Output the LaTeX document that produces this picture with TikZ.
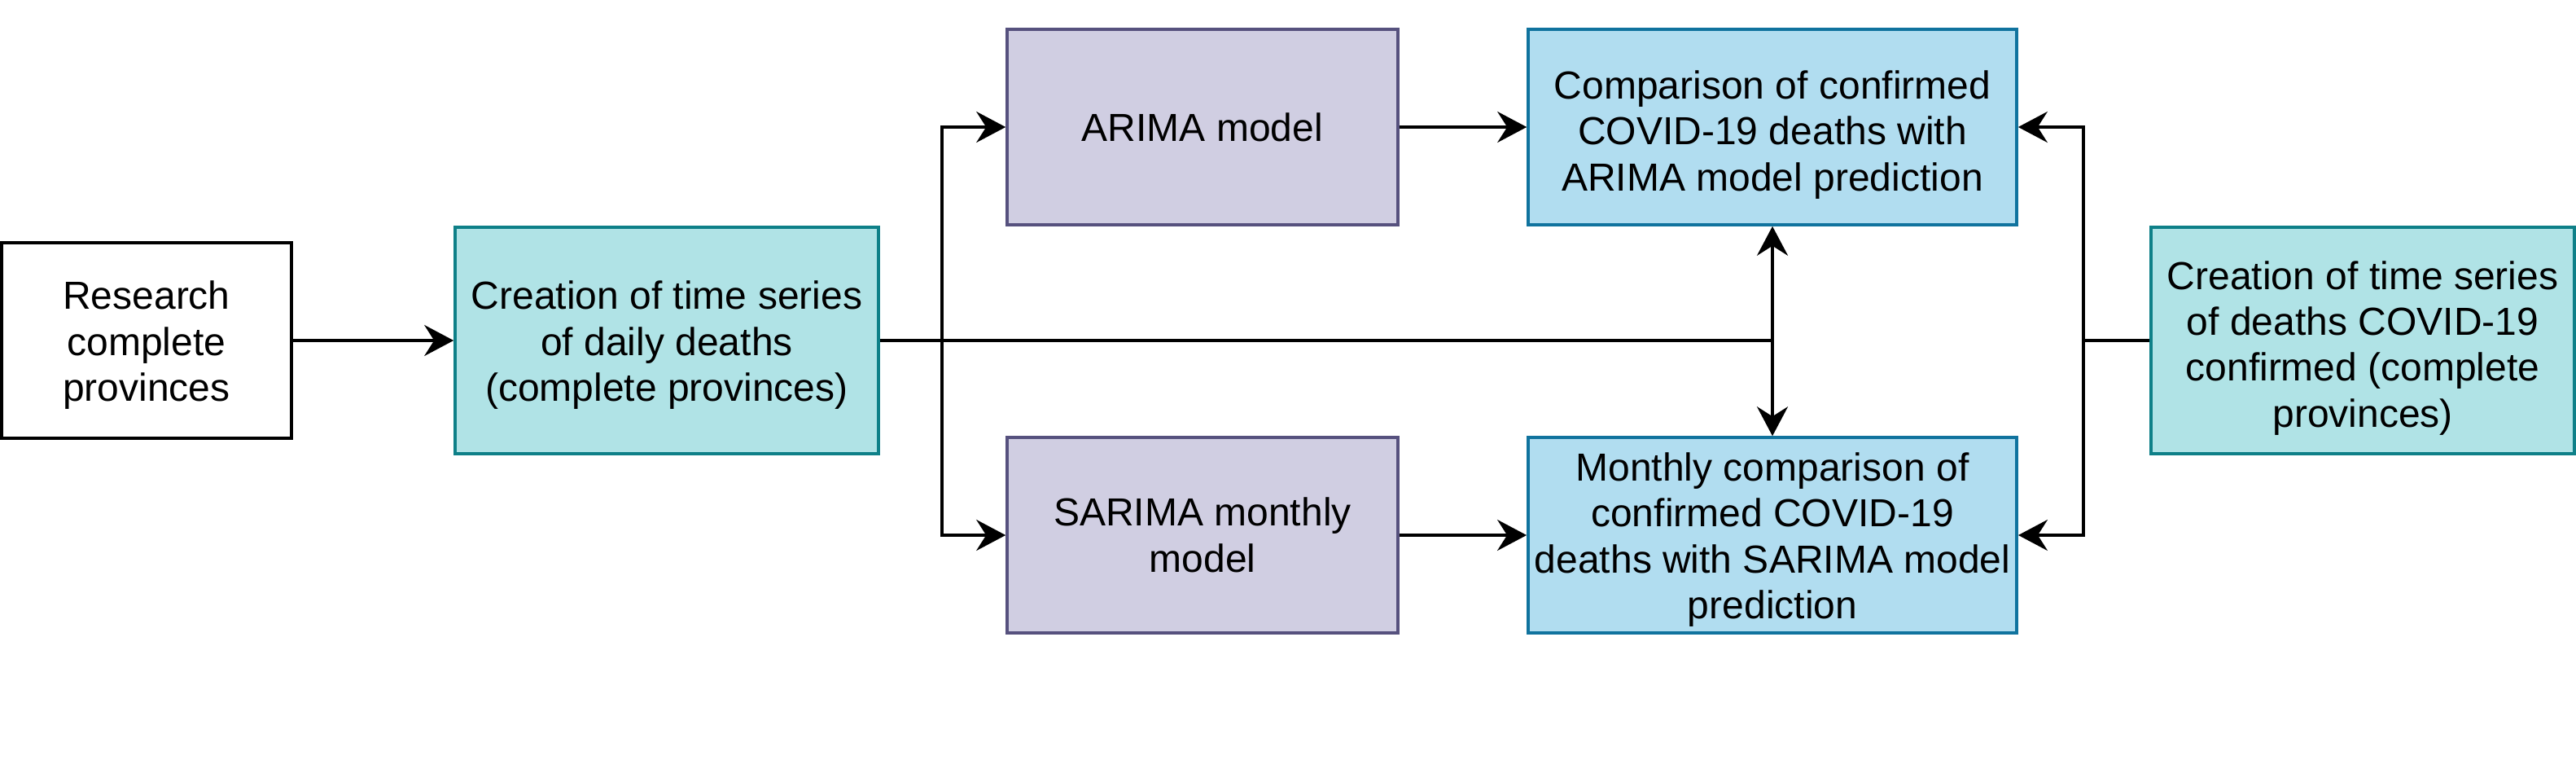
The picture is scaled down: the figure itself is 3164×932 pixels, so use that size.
\documentclass[tikz,border=0pt]{standalone}
\usepackage{fontspec}
\setmainfont{Liberation Sans}
\usetikzlibrary{arrows.meta}
\definecolor{tealfill}{HTML}{B0E3E6}
\definecolor{tealline}{HTML}{0E8088}
\definecolor{purfill}{HTML}{D0CEE2}
\definecolor{purline}{HTML}{56517E}
\definecolor{bluefill}{HTML}{B1DDF0}
\definecolor{blueline}{HTML}{10739E}
\newcommand{\firstln}{\rule{0pt}{13.3pt}}
\newcommand{\firstsm}{\rule{0pt}{11.6pt}}
\begin{document}
\begin{tikzpicture}[x=0.25pt,y=-0.25pt,
  every node/.style={font=\fontsize{12}{14.1}\selectfont, align=center, inner xsep=2pt, inner ysep=0pt},
  basebox/.style={draw, line width=0.9pt, rectangle},
  whitebox/.style={basebox, draw=black, fill=white, minimum width=89pt, minimum height=60pt},
  tealbox/.style={basebox, draw=tealline, fill=tealfill, minimum width=130pt, minimum height=69.5pt},
  purbox/.style={basebox, draw=purline, fill=purfill, minimum width=120pt, minimum height=60pt},
  bluebox/.style={basebox, draw=blueline, fill=bluefill, minimum width=150pt, minimum height=60pt},
  conn/.style={line width=0.9pt, draw=black},
  arr/.style={conn, -{Stealth[length=9pt,width=9.5pt,inset=3pt]}}
]
\useasboundingbox (0,0) rectangle (3164,932);

\node[whitebox] (research) at (180,418) {\firstsm Research\\complete\\provinces};
\node[tealbox] (daily) at (819,418) {\firstsm Creation of time series\\of daily deaths\\(complete provinces)};
\node[purbox] (arima) at (1477,156) {ARIMA model};
\node[purbox] (sarima) at (1477,657) {SARIMA monthly\\model};
\node[bluebox] (cmpa) at (2177,156) {\firstln Comparison of confirmed\\COVID-19 deaths with\\ARIMA model prediction};
\node[bluebox] (cmps) at (2177,657) {\rule{0pt}{11.4pt}Monthly comparison of\\confirmed COVID-19\\deaths with SARIMA model\\prediction};
\node[tealbox] (conf) at (2902,418) {\firstln Creation of time series\\of deaths COVID-19\\confirmed (complete\\provinces)};

\coordinate (jl) at (1157,418);
\coordinate (jm) at (2177,418);
\coordinate (jr) at (2559,418);

\draw[arr] (research) -- (daily);
\draw[conn] (daily.east) -- (jm);
\draw[arr] (jm) -- (cmpa.south);
\draw[arr] (jm) -- (cmps.north);
\draw[arr] (jl) |- (arima.west);
\draw[arr] (jl) |- (sarima.west);
\draw[arr] (arima) -- (cmpa);
\draw[arr] (sarima) -- (cmps);
\draw[conn] (conf.west) -- (jr);
\draw[arr] (jr) |- (cmpa.east);
\draw[arr] (jr) |- (cmps.east);
\end{tikzpicture}
\end{document}
